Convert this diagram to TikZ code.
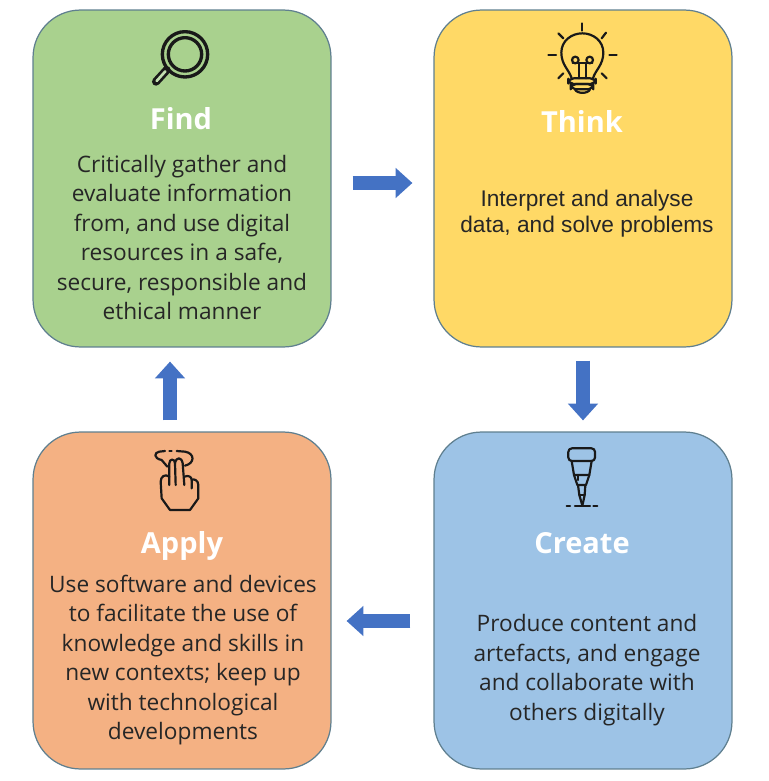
\documentclass[tikz,border=0pt]{standalone}
\usepackage{fontspec}
\usetikzlibrary{arrows.meta}
\setmainfont{Open Sans}
\newfontfamily\thinkfont{Liberation Sans}

\tikzset{
  card/.style={draw=cardline, line width=.7pt, rounded corners=.95cm, minimum width=5.96cm, minimum height=6.74cm},
  title/.style={text=white, font=\fontsize{16.5}{20}\selectfont\bfseries},
  body/.style={text=black!85, align=center, font=\fontsize{12.9}{16.75}\selectfont},
  flow/.style={draw=flowblue, line width=8.5pt, -{Triangle[length=9.5pt,width=16.5pt]}},
  icon/.style={line width=1.25pt, line cap=round, line join=round, color=black!90}
}
\definecolor{cardline}{HTML}{5F7F8F}
\definecolor{flowblue}{HTML}{4472C4}
\definecolor{findgreen}{HTML}{A9D18E}
\definecolor{thinkyellow}{HTML}{FFD966}
\definecolor{createblue}{HTML}{9DC3E6}
\definecolor{applyorange}{HTML}{F4B183}

\begin{document}
\begin{tikzpicture}[x=.02cm, y=-.02cm]

        \useasboundingbox (0,0) rectangle (768,781);

        % the four cards
        \node[card, fill=findgreen]   (find)   at (182,178.5) {};
        \node[card, fill=thinkyellow] (think)  at (583,178.5) {};
        \node[card, fill=createblue]  (create) at (583,600.5) {};
        \node[card, fill=applyorange] (apply)  at (182,600.5) {};

        \node[title] (findtitle)   at (181,119) {Find};
        \node[title] (thinktitle)  at (582,121) {Think};
        \node[title] (createtitle) at (582,543) {Create};
        \node[title] (applytitle)  at (182,546) {Apply};

        \node[body] (findtext) at (182,237.5) {Critically gather and\\evaluate information\\from, and use digital\\resources in a safe,\\secure, responsible and\\ethical manner};
        \node[body, font=\fontsize{12.9}{14.8}\selectfont\thinkfont] (thinktext) at (587,214) {Interpret and analyse\\data, and solve problems};
        \node[body] (createtext) at (587,670) {Produce content and\\artefacts, and engage\\and collaborate with\\others digitally};
        \node[body] (applytext) at (183,660) {Use software and devices\\to facilitate the use of\\knowledge and skills in\\new contexts; keep up\\with technological\\developments};

        % arrows between the cards
        \begin{scope}[every edge/.style={flow}]
          \path ([yshift=-.09cm]find.east) edge[shorten <=.42cm, shorten >=.42cm] ([yshift=-.09cm]think.west);
          \path (think.south) edge[shorten <=.26cm, shorten >=.22cm] (create.north);
          \path ([yshift=-.41cm]create.west) edge[shorten <=.46cm, shorten >=.3cm] ([yshift=-.41cm]apply.east);
          \path ([xshift=-.24cm]apply.north) edge[shorten <=.22cm, shorten >=.28cm] ([xshift=-.24cm]find.south);
        \end{scope}

        % magnifying glass
        \begin{scope}[shift={(130,10)}, scale=1/3, icon]
          \draw[line width=1.9pt] (165,133) circle (68);
          \draw[line width=1.9pt] (165,133) circle (50);
          \draw[line width=4.6pt] (110,180) -- (78,215);
          \draw[line width=1.5pt, findgreen!70!white] (106,184) -- (80,213);
        \end{scope}

        % light bulb
        \begin{scope}[shift={(530,10)}, scale=1/3, icon]
          \draw (157,40) -- (157,62);
          \draw (85,70) -- (100,85);
          \draw (228,68) -- (215,85);
          \draw (55,135) -- (78,135);
          \draw (238,135) -- (260,135);
          \draw (85,205) -- (100,190);
          \draw (230,205) -- (215,190);
          \draw (125,205) .. controls (118,180) and (94,165) .. (94,128) .. controls (94,92) and (125,70) .. (157,70) .. controls (189,70) and (220,92) .. (220,128) .. controls (220,165) and (196,180) .. (189,205);
          \draw[rounded corners=3pt] (115,205) rectangle (197,222);
          \draw[rounded corners=3pt] (122,222) rectangle (190,238);
          \draw (135,238) .. controls (140,252) and (175,252) .. (180,238);
          \draw (147,205) -- (147,160) -- (128,160);
          \draw (168,205) -- (168,160) -- (187,160);
          \draw (147,160) -- (168,160);
          \draw (136,150) circle (10);
          \draw (179,150) circle (10);
        \end{scope}

        % hand
        \begin{scope}[shift={(130,435)}, scale=1/3, icon]
          \draw (105,48) -- (88,50) .. controls (72,52) and (70,70) .. (95,75) -- (112,95);
          \draw (118,48) -- (125,48);
          \draw (140,48) -- (165,50) .. controls (195,55) and (195,85) .. (165,92);
          \draw (118,150) -- (118,85) .. controls (118,70) and (135,70) .. (135,85) -- (137,150);
          \draw (135,85) .. controls (138,65) and (155,65) .. (158,85) -- (163,150);
          \draw (118,125) .. controls (105,115) and (92,125) .. (92,140) -- (95,190) -- (120,225) -- (180,225) -- (205,190) -- (205,150) .. controls (205,135) and (190,130) .. (185,135);
          \draw (163,125) .. controls (175,120) and (185,125) .. (185,135) -- (185,160);
        \end{scope}

        % nib
        \begin{scope}[shift={(540,435)}, scale=1/3, icon]
          \draw[rounded corners=2pt] (85,40) rectangle (165,78);
          \draw (95,78) -- (102,120) -- (148,120) -- (155,78);
          \draw (102,120) -- (112,150) -- (138,150) -- (148,120);
          \draw (114,150) -- (118,180) -- (126,208);
          \draw (136,150) -- (134,180) -- (128,208);
          \draw (118,180) -- (134,180);
          \draw (115,122) -- (115,135);
          \draw (80,212) -- (90,212);
          \draw (105,212) -- (150,212);
          \draw (160,212) -- (172,212);
        \end{scope}

      \end{tikzpicture}
\end{document}
